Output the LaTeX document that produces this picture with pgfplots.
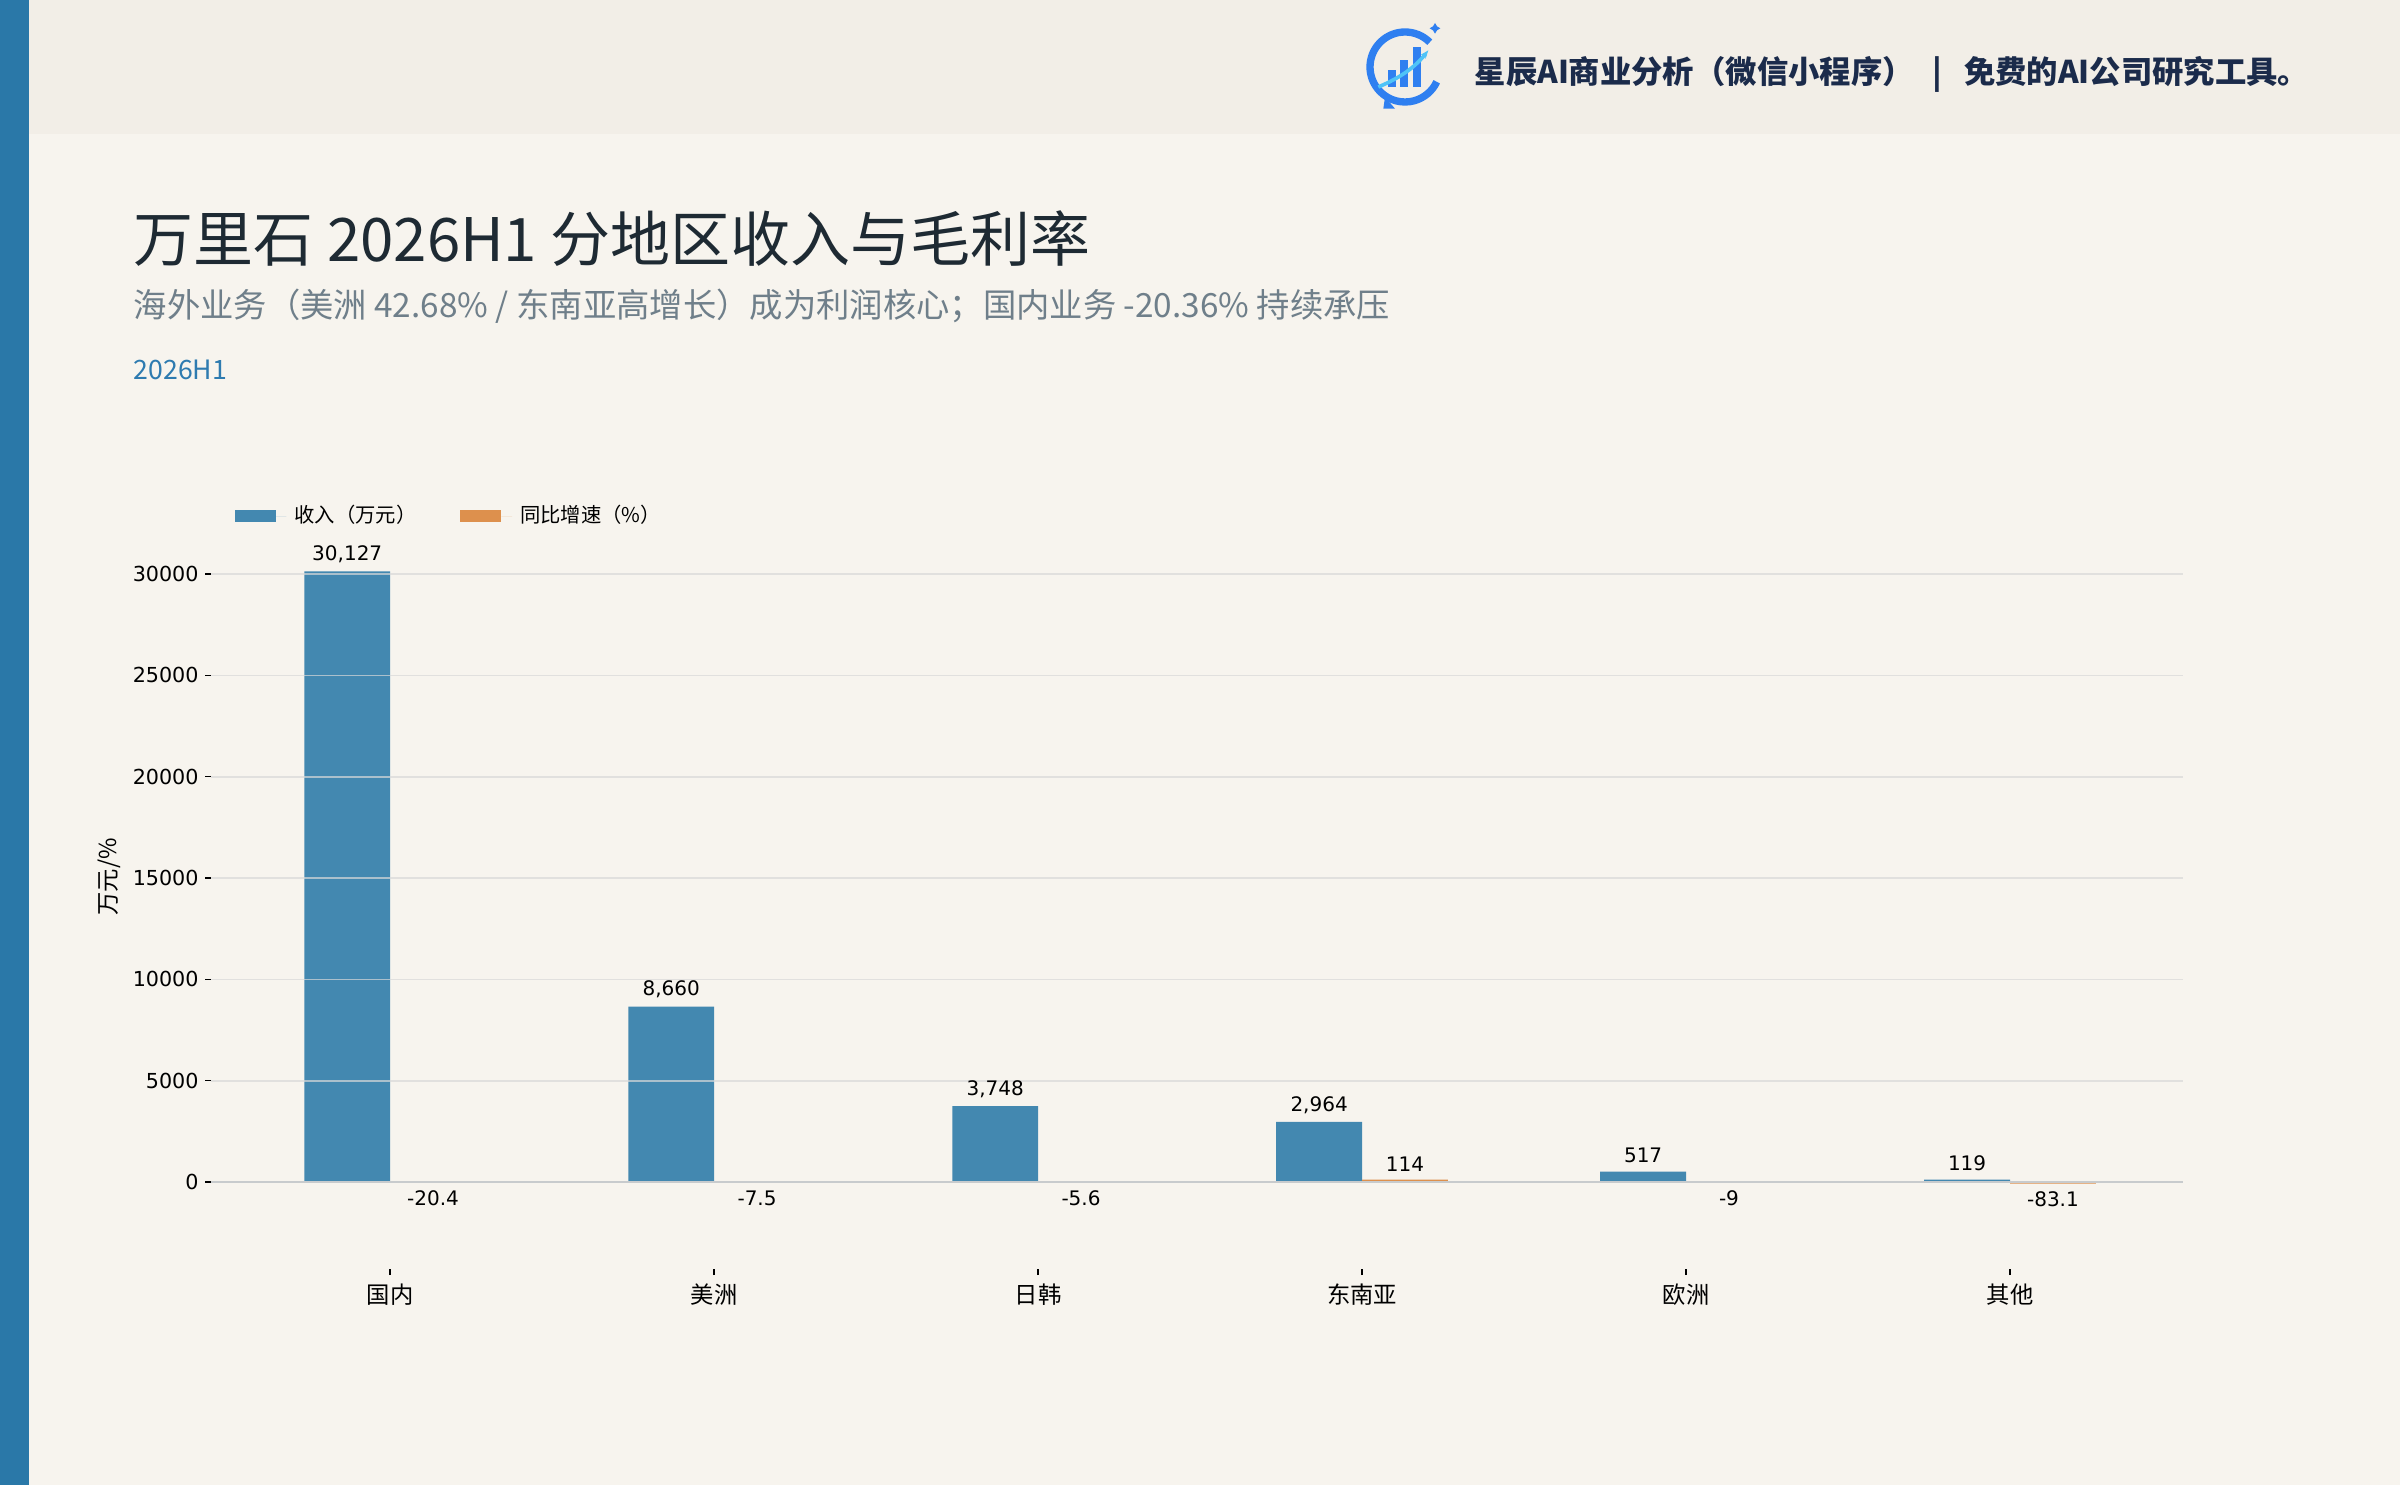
\documentclass[border=0pt]{standalone}
\usepackage{pgfplots}
\pgfplotsset{compat=1.18}
\usepackage{pgfplotstable}
\usepackage{fontspec}
\setmainfont{Noto Sans CJK SC}
\newfontfamily\dejavu{DejaVu Sans}
\usetikzlibrary{arrows.meta}
\definecolor{bg}{HTML}{F7F4EE}
\definecolor{headbg}{HTML}{F2EEE7}
\definecolor{stripe}{HTML}{2A78A8}
\definecolor{barblue}{HTML}{4388B0}
\definecolor{barorange}{HTML}{DD904D}
\definecolor{titlec}{HTML}{1E2A33}
\definecolor{subc}{HTML}{6F7F8A}
\definecolor{periodc}{HTML}{2E7BB0}
\definecolor{headc}{HTML}{1B2B4B}
\definecolor{zeroc}{HTML}{A3AEB4}
\definecolor{gridc}{HTML}{D8D8D8}
\definecolor{iconA}{HTML}{2F7FF0}
\definecolor{iconB}{HTML}{4FC3F7}

\pgfplotstableread{
x rev
0 30127
1 8660
2 3748
3 2964
4 517
5 119
}\revtable
\pgfplotstableread{
x yoy
0 -20.4
1 -7.5
2 -5.6
3 114
4 -9
5 -83.1
}\yoytable

\begin{document}
\begin{tikzpicture}
\useasboundingbox (0,0) rectangle (720pt,445.5pt);
\fill[bg] (0,0) rectangle (720pt,445.5pt);
\fill[headbg] (0,405.3pt) rectangle (720pt,445.5pt);
\fill[stripe] (0,0) rectangle (8.7pt,445.5pt);
% logo
\begin{scope}[shift={(421.5pt,425.4pt)}]
  \draw[iconA, line width=2.2pt] (45:10.5pt) arc (45:335:10.5pt);
  \fill[iconA] (-5.2pt,-6pt) rectangle (-2.8pt,-1pt);
  \fill[iconA] (-1.4pt,-6pt) rectangle (1pt,2pt);
  \fill[iconA] (2.4pt,-6pt) rectangle (4.8pt,6pt);
  \draw[iconB, line width=1.1pt, -{Stealth[length=2.5pt]}] (-8pt,-6pt) .. controls (-1pt,-3pt) and (3pt,0pt) .. (7pt,5pt);
  \fill[iconA] (9pt,10pt) -- (9.6pt,11pt) -- (10.6pt,11.6pt) -- (9.6pt,12.2pt) -- (9pt,13.2pt) -- (8.4pt,12.2pt) -- (7.4pt,11.6pt) -- (8.4pt,11pt) -- cycle;
  \fill[iconA] (-6pt,-9pt) -- (-3pt,-12.5pt) -- (-6.5pt,-12.5pt) -- cycle;
\end{scope}
\node[anchor=base west, inner sep=0pt, font=\fontsize{9.4}{10}\selectfont\bfseries, text=headc] at (442.2pt,420.3pt) {星辰AI商业分析（微信小程序）\hspace{0.6em}|\hspace{0.7em}免费的AI公司研究工具。};
\node[anchor=base west, inner sep=0pt, font=\fontsize{18}{20}\selectfont, text=titlec] at (39.9pt,366.9pt) {万里石 2026H1 分地区收入与毛利率};
\node[anchor=base west, inner sep=0pt, font=\fontsize{10}{12}\selectfont, text=subc] at (39.9pt,350.4pt) {海外业务（美洲 42.68\% / 东南亚高增长）成为利润核心；国内业务 -20.36\% 持续承压};
\node[anchor=base west, inner sep=0pt, font=\fontsize{8}{10}\selectfont, text=periodc] at (39.9pt,331.5pt) {2026H1};

\begin{axis}[
  at={(63.3pt,64.8pt)}, anchor=south west,
  scale only axis, width=591.6pt, height=220.65pt,
  xmin=-0.553, xmax=5.534, ymin=-4293, ymax=32000,
  clip=false,
  axis x line*=bottom, axis y line*=left,
  axis line style={draw=none},
  tick align=outside,
  major tick length=1.8pt,
  tick style={color=black, line width=0.4pt},
  xtick={0,1,2,3,4,5},
  xticklabels={国内,美洲,日韩,东南亚,欧洲,其他},
  xticklabel style={font=\fontsize{7}{8}\selectfont, yshift=0.8pt},
  ytick={0,5000,10000,15000,20000,25000,30000},
  scaled y ticks=false,
  /pgf/number format/1000 sep={},
  /pgf/number format/assume math mode=true,
  yticklabel style={font=\dejavu\fontsize{6.2}{7}\selectfont, xshift=1.6pt},
  ymajorgrids,
  major grid style={color=gridc, opacity=0.7, line width=0.5pt},
  axis on top,
  ylabel={万元/\%},
  ylabel style={font=\fontsize{7}{8}\selectfont, at={(axis description cs:-0.0515,0.533)}, anchor=center},
  legend columns=2,
  legend style={draw=none, fill=none, at={(axis description cs:0.0117,1.0235)}, anchor=west,
    font=\fontsize{6.1}{7}\selectfont, inner sep=0pt,
    nodes={inner sep=2.4pt},
    /tikz/every even column/.append style={column sep=10.8pt}},
]
\addplot[ybar, bar width=0.265, bar shift=-0.1325, fill=barblue, draw=none,
  legend image code/.code={\fill[barblue] (0pt,-1.8pt) rectangle (12.3pt,1.8pt); \path (12.3pt,0pt) -- (15.5pt,0pt);},
  nodes near coords={\pgfmathprintnumber[fixed,precision=0,1000 sep={,},assume math mode=true]{\pgfplotspointmeta}},
  nodes near coords style={font=\dejavu\fontsize{6}{7}\selectfont, text=black, inner sep=2.3pt, xshift=-12.88pt}]
  table[x=x, y=rev] {\revtable};
\addlegendentry{收入（万元）}
\addplot[ybar, bar width=0.265, bar shift=0.1325, fill=barorange, draw=none,
  legend image code/.code={\fill[barorange] (0pt,-1.8pt) rectangle (12.3pt,1.8pt); \path (12.3pt,0pt) -- (15.5pt,0pt);},
  nodes near coords={\pgfmathprintnumber[fixed,precision=1,assume math mode=true]{\pgfplotspointmeta}},
  nodes near coords align={vertical},
  nodes near coords style={font=\dejavu\fontsize{6}{7}\selectfont, text=black, inner sep=2.3pt, xshift=12.88pt}]
  table[x=x, y=yoy] {\yoytable};
\addlegendentry{同比增速（\%）}
\addplot[zeroc, line width=0.8pt, forget plot] coordinates {(-0.553,0) (5.534,0)};
\end{axis}
\end{tikzpicture}
\end{document}
